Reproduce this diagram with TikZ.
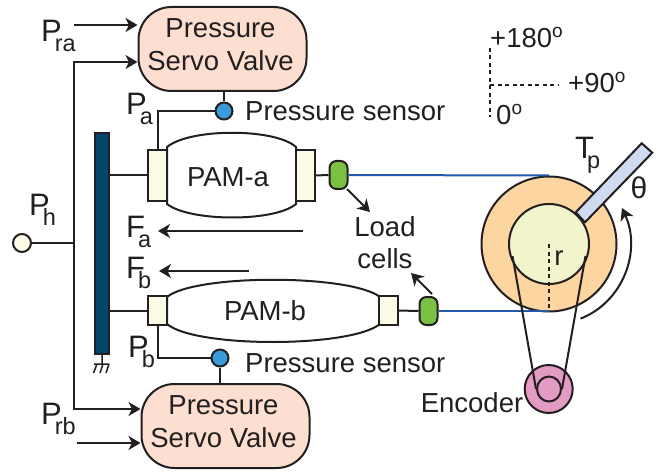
\documentclass[tikz,border=0pt]{standalone}
\usepackage{fontspec}
\setmainfont{Liberation Sans}
\usetikzlibrary{arrows.meta,shapes.geometric}
\definecolor{ink}{HTML}{231F20}
\definecolor{valvefill}{HTML}{FCDFD0}
\definecolor{barfill}{HTML}{05446B}
\definecolor{boxfill}{HTML}{FBFBE8}
\definecolor{cellfill}{HTML}{7AC143}
\definecolor{sensorfill}{HTML}{3A9BD9}
\definecolor{wire}{HTML}{2458A8}
\definecolor{outerfill}{HTML}{FDD5A0}
\definecolor{innerfill}{HTML}{F2F4CC}
\definecolor{armfill}{HTML}{CFDBEE}
\definecolor{pinkfill}{HTML}{E39AC3}
\newcommand{\bigtxt}{\fontsize{27.5}{33}\selectfont}
\newcommand{\lbl}[2]{\fontsize{31}{31}\selectfont #1\kern-7pt\raisebox{-10pt}{\fontsize{23.5}{24}\selectfont #2}}
\newcommand{\degmark}{\raisebox{10.5pt}{\fontsize{19}{19}\selectfont o}}
\newcommand{\valvetxt}{\raisebox{1.5pt}[\height][\depth]{\begin{tabular}{@{}c@{}}Pressure\\Servo Valve\end{tabular}}\kern4pt}
\tikzset{
  base/.style={line width=2pt,draw=ink},
  valve/.style={base,fill=valvefill,rounded corners=33pt,minimum width=168pt,minimum height=84pt,inner sep=0pt,text=ink,font=\bigtxt},
  fitting/.style={base,fill=boxfill,inner sep=0pt},
  sensor/.style={base,fill=sensorfill,circle,minimum size=17pt,inner sep=0pt},
  cell/.style={base,fill=cellfill,rounded corners=7pt,minimum width=18pt,minimum height=28pt,inner sep=0pt},
  txt/.style={text=ink,inner sep=0pt,font=\bigtxt},
  sym/.style={text=ink,inner sep=0pt,anchor=base west},
  arr/.style={base,-{Stealth[length=12pt,width=14pt,inset=3.5pt]}},
  ropeline/.style={line width=2pt,draw=wire},
  dashline/.style={line width=2pt,draw=ink,dash pattern=on 4pt off 3.5pt},
}
\begin{document}
\begin{tikzpicture}[x=1pt,y=-1pt]
\useasboundingbox (0,0) rectangle (661,473);
% pneumatic supply
\node[base,fill=boxfill,circle,minimum size=18pt,inner sep=0pt] (ph) at (22,243) {};
\coordinate (jn) at (74,243);
\coordinate (jt) at (74,62);
\coordinate (jb) at (74,409);
\node[valve] (v1) at (222.5,49) {\valvetxt};
\node[valve] (v2) at (225.5,426) {\valvetxt};
\draw[base] (ph) -- (jn);
\draw[arr] (jn) -- (jt) -- (v1.west |- jt);
\draw[arr] (jn) -- (jb) -- (v2.west |- jb);
\coordinate (pra) at (74,25);
\coordinate (prb) at (77,443);
\draw[arr] (pra) -- (v1.west |- pra);
\draw[arr] (prb) -- (v2.west |- prb);
% bar
\node[base,fill=barfill,minimum width=14pt,minimum height=221pt,inner sep=0pt] (bar) at (102,243.5) {};
\coordinate (g0) at (102,364);
\draw[line width=1.5pt,draw=ink] (bar.south) -- (g0) (94,364) -- (109,364) (97,364) -- (93.5,373) (103,364) -- (100,373) (109,364) -- (106,373);
% PAM-a
\draw[base,fill=white] (167,147) .. controls (190,128) and (275,128) .. (296,147) -- (296,204) .. controls (275,222) and (190,222) .. (167,204) -- cycle;
\node[fitting,minimum width=19pt,minimum height=51pt] (fa1) at (157.5,175.5) {};
\node[fitting,minimum width=19pt,minimum height=51pt] (fa2) at (305,175.5) {};
\node[txt] (pa) at (228,177) {PAM-a};
% PAM-b
\draw[base,fill=white] (167,297) .. controls (195,274) and (350,274) .. (380,297) -- (380,324) .. controls (350,348) and (195,348) .. (167,324) -- cycle;
\node[fitting,minimum width=19pt,minimum height=29pt] (fb1) at (157.5,310.5) {};
\node[fitting,minimum width=19pt,minimum height=29pt] (fb2) at (388.5,310.5) {};
\node[txt] (pb) at (265,311) {PAM-b};
\draw[base] (bar.east |- fa1) -- (fa1);
\draw[base] (bar.east |- fb1) -- (fb1);
% sensors
\node[sensor] (s1) at (224,111) {};
\node[sensor] (s2) at (220,358) {};
\draw[base] (v1.south -| s1) -- (s1);
\draw[base] (s1) -- (158,111) -- (158,150);
\draw[base] (v2.north -| s2) -- (s2);
\draw[base] (s2) -- (158,358) -- (158,325);
\node[txt,anchor=west] (st1) at (245,111) {Pressure sensor};
\node[txt,anchor=west] (st2) at (245,363) {Pressure sensor};
% load cells
\node[cell] (c1) at (338.5,175) {};
\node[cell] (c2) at (428.5,311) {};
\draw[base] (fa2) -- (c1);
\draw[base] (fb2) -- (c2);
\coordinate (ra) at (549,175.5);
\coordinate (rb) at (549,311);
\node[txt] (lo) at (385,227) {Load};
\node[txt] (ce) at (385,259) {cells};
\draw[arr] (347,189) -- (370,212);
\draw[arr] (432,294) -- (411,273);
% forces
\coordinate (fa) at (303,231);
\coordinate (fat) at (158,231);
\coordinate (fb) at (249,271);
\coordinate (fbt) at (159,271);
\draw[arr] (fa) -- (fat);
\draw[arr] (fb) -- (fbt);
% pulley
\node[base,fill=outerfill,circle,minimum size=135pt,inner sep=0pt] (po) at (549,244) {};
\draw[ropeline] (c1) -- (ra);
\draw[ropeline] (c2) -- (rb);
\draw[base,fill=armfill] (575.7,212.3) -- (641.7,143.3) -- (652.3,152.7) -- (585,222.3) -- cycle;
\node[base,fill=innerfill,circle,minimum size=80pt,inner sep=0pt] (pi) at (549,244) {};
\node[base,fill=pinkfill,circle,minimum size=48pt,inner sep=0pt] (en) at (548.7,389) {};
\node[base,ellipse,minimum width=24pt,minimum height=25pt,inner sep=0pt] (eni) at (549,389) {};
\draw[base] (512.5,256) -- (eni.west);
\draw[base] (585.5,256) -- (eni.east);
\draw[dashline] (pi.center) -- (rb);
\node[txt] (rl) at (559,258) {r};
\node[txt] (enl) at (472,403) {Encoder};
\draw[arr] (580.6,318.6) .. controls (623,302) and (641.7,251.3) .. (622,208);
\node[inner sep=0pt,text=ink,font=\fontsize{30}{30}\selectfont] (th) at (639,188) {θ};
\node[sym] (tp) at (575,159) {\lbl{T}{p}};
% labels
\node[sym] (lra) at (41,42) {\lbl{P}{ra}};
\node[sym] (lrb) at (41,424) {\lbl{P}{rb}};
\node[sym] (lh) at (29,215) {\lbl{P}{h}};
\node[sym] (la) at (126,115) {\lbl{P}{a}};
\node[sym] (lb) at (128,357) {\lbl{P}{b}};
\node[sym] (lfa) at (126,237) {\lbl{F}{a}};
\node[sym] (lfb) at (126,278) {\lbl{F}{b}};
% axes
\coordinate (ax) at (490,85);
\draw[dashline] (490,48) -- (490,117);
\draw[dashline] (ax) -- (558,85);
\node[sym,font=\bigtxt] (a180) at (490,48) {+180\degmark};
\node[sym,font=\bigtxt] (a90) at (568,93) {+90\degmark};
\node[sym,font=\bigtxt] (a0) at (496,125) {0\degmark};
\end{tikzpicture}
\end{document}
